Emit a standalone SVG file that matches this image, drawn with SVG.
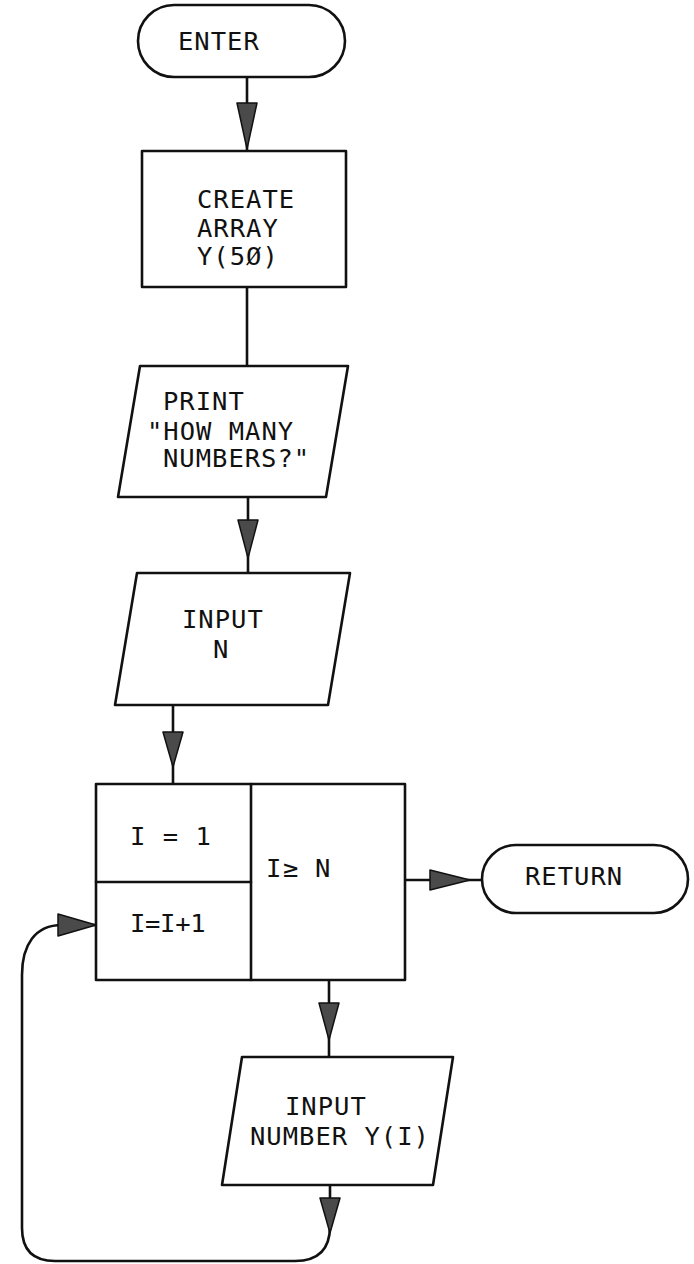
<svg xmlns="http://www.w3.org/2000/svg" width="694" height="1264" viewBox="0 0 694 1264">
<style>
.s{fill:#fff;stroke:#111;stroke-width:2.6;stroke-linejoin:round}
.c{fill:none;stroke:#111;stroke-width:2.6;stroke-linecap:round}
.ah{fill:#4a4a4a;stroke:#111;stroke-width:1.5;stroke-linejoin:round}
text{font-family:"DejaVu Sans Mono","Liberation Mono",monospace;font-size:25.5px;fill:#111;letter-spacing:1px}
</style>
<rect width="694" height="1264" fill="#fff"/>
<g id="connectors">
<line class="c" x1="247" y1="77" x2="247" y2="151"/>
<polygon class="ah" points="237,103 257,103 247,149"/>
<line class="c" x1="247" y1="287" x2="247" y2="366"/>
<line class="c" x1="248" y1="497" x2="248" y2="573"/>
<polygon class="ah" points="238,520 258,520 248,558"/>
<line class="c" x1="173" y1="705" x2="173" y2="784"/>
<polygon class="ah" points="163,732 183,732 173,767"/>
<line class="c" x1="405" y1="880" x2="482" y2="880"/>
<polygon class="ah" points="430,870 430,890 470,880"/>
<line class="c" x1="329" y1="980" x2="329" y2="1057"/>
<polygon class="ah" points="319,1003 339,1003 329,1040"/>
<path class="c" d="M330,1185 L330,1226 Q330,1261 295,1261 L55,1261 Q22,1261 22,1228 L22,975 C22,945 35,925 62,925 L96,925"/>
<polygon class="ah" points="320,1198 340,1198 330,1233"/>
<polygon class="ah" points="58,914 58,936 96,925"/>
</g>
<g id="enter">
<rect class="s" x="138" y="5" width="207" height="72" rx="36" ry="36"/>
<text x="178" y="50">ENTER</text>
</g>
<g id="create">
<rect class="s" x="142" y="151" width="204" height="136"/>
<text x="197" y="208">CREATE</text>
<text x="197" y="237">ARRAY</text>
<text x="197" y="265">Y(5Ø)</text>
</g>
<g id="print">
<polygon class="s" points="140,366 348,366 326,497 118,497"/>
<text x="163" y="410">PRINT</text>
<text x="147" y="440">"HOW MANY</text>
<text x="163" y="467">NUMBERS?"</text>
</g>
<g id="input-n">
<polygon class="s" points="137,573 350,573 328,705 115,705"/>
<text x="182" y="628">INPUT</text>
<text x="213" y="658">N</text>
</g>
<g id="loop">
<rect class="s" x="96" y="784" width="309" height="196"/>
<line class="c" x1="251" y1="784" x2="251" y2="980"/>
<line class="c" x1="96" y1="882" x2="251" y2="882"/>
<text x="130" y="845">I = 1</text>
<text x="130" y="932" style="letter-spacing:-0.3px">I=I+1</text>
<text><tspan x="266" y="877">I</tspan> <tspan x="283" y="877">≥</tspan> <tspan x="315" y="877">N</tspan></text>
</g>
<g id="return">
<rect class="s" x="482" y="845" width="206" height="68" rx="34" ry="34"/>
<text x="525" y="885">RETURN</text>
</g>
<g id="input-number">
<polygon class="s" points="242,1057 453,1057 433,1185 222,1185"/>
<text x="285" y="1115">INPUT</text>
<text x="250" y="1145">NUMBER Y(I)</text>
</g>
</svg>
